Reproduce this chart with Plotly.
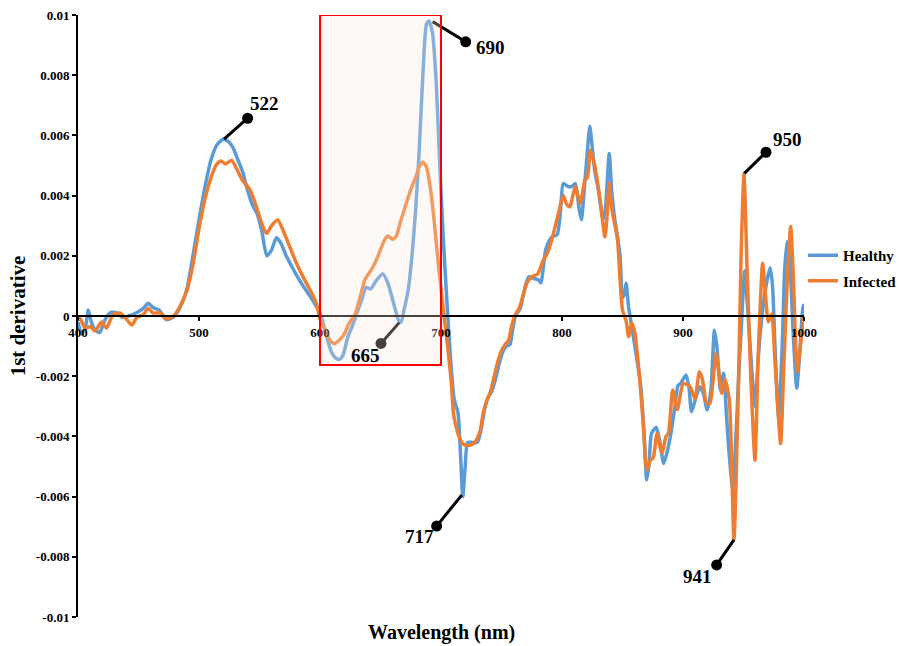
import plotly.graph_objects as go

# ---------------- data (values in units of 1e-3) ----------------
healthy_wl = [400, 403, 406, 408.5, 411, 414, 418, 422, 427, 432, 437, 442, 448, 454, 458, 462, 467, 473, 479, 484,
              490, 495, 500, 505, 510, 515, 520, 524, 528, 532, 536, 540, 544, 548, 552, 556, 560, 564, 568, 572,
              576, 580, 586, 592, 598, 601, 605, 609, 613, 616, 619, 623, 627, 631, 635, 638, 642, 646, 652, 656,
              659, 662, 665, 667, 670, 673, 676, 679, 682, 685, 688, 690, 693, 696, 699, 702, 705, 708, 711, 714,
              716, 718, 720, 722, 726, 730, 733, 736, 739, 742, 745, 748, 751, 754, 757, 759, 761.5, 765.5, 768.5, 772.5,
              776.5, 780.5, 782.5, 786.5, 789.5, 792.5, 796, 799, 801, 805, 808, 811, 814, 816, 819, 821, 823, 825, 827, 830,
              834, 836, 839, 841, 843, 846, 848, 850, 852, 853, 855, 857, 861, 865, 868, 870, 872, 874, 878, 881,
              884, 887, 890, 893, 896, 898, 902.5, 905, 907, 910, 914, 917, 920, 923, 926, 928, 931, 933.5, 936, 938,
              941, 944, 946, 948, 951, 953, 955, 959.5, 962, 964, 968, 972, 974, 976, 979, 982, 984, 986, 988, 991,
              994, 996, 999, 1000]
healthy_val = [-0.2, -0.6, -0.4, 0.2, -0.2, -0.45, -0.55, -0.15, 0.12, 0.1, -0.05, 0.0, 0.1, 0.25, 0.42, 0.28, 0.2, -0.12, -0.03, 0.26,
               0.9, 2.0, 3.2, 4.3, 5.2, 5.7, 5.87, 5.8, 5.6, 5.2, 4.8, 4.2, 3.7, 3.4, 2.8, 2.0, 2.2, 2.6, 2.4, 2.0,
               1.7, 1.4, 1.0, 0.65, 0.25, 0.0, -0.6, -1.15, -1.4, -1.44, -1.3, -0.7, -0.3, 0.15, 0.6, 0.95, 0.9, 1.15, 1.4, 1.1,
               0.7, 0.25, -0.15, -0.2, 0.3, 0.9, 2.0, 3.5, 5.5, 8.0, 9.7, 9.8, 9.4, 7.8, 5.0, 2.5, 0.4, -1.5, -2.8, -3.2,
               -4.5, -6.0, -5.0, -4.2, -4.2, -4.2, -3.8, -3.1, -2.7, -2.5, -2.1, -1.6, -1.2, -1.0, -0.95, -0.5, 0.0, 0.25, 0.8, 1.3,
               1.25, 1.2, 1.1, 2.2, 2.5, 2.65, 2.7, 3.6, 4.4, 4.3, 4.3, 4.4, 3.6, 3.2, 4.5, 5.5, 6.3, 5.6, 4.85, 4.2,
               3.2, 3.6, 5.4, 4.2, 3.4, 2.6, 2.0, 0.6, 0.8, 1.1, 0.3, -0.2, -1.2, -2.3, -4.0, -5.45, -4.9, -3.9, -3.7, -4.2,
               -4.9, -4.5, -3.9, -3.1, -2.3, -2.24, -1.96, -2.4, -3.18, -2.8, -2.35, -2.6, -3.12, -2.5, -0.47, -1.0, -2.46, -1.9, -3.35, -4.5,
               -5.73, -3.8, -2.0, -0.5, 1.5, 0.5, -0.7, -3.0, -1.5, -0.5, 0.86, 1.6, 1.0, -1.0, -3.35, -1.0, 1.5, 2.47, 2.0, -0.5,
               -2.4, -1.5, 0.25, 0.4]

infected_wl = [400, 402, 406, 410, 414, 419.5, 423.5, 429, 434.5, 440, 444.5, 448.5, 454, 458, 462, 468, 473, 479, 484, 490,
               495, 500, 505, 510, 514, 518, 522, 527, 531, 536, 542, 546, 550, 554, 556, 560, 565, 570, 575, 580,
               586, 592, 597, 600, 604, 608, 612, 616, 620, 624, 629, 633, 637, 641, 645, 649, 653, 656, 660, 663,
               667, 671, 675, 679, 682, 685, 688, 691, 694, 697, 700, 703, 706, 708.5, 710.5, 714, 717.5, 721, 724, 728,
               730, 732.5, 735, 738, 741, 744, 747, 750, 753, 756, 758, 761, 765, 768, 771, 775, 780, 784, 788, 792,
               797, 801, 804, 806.5, 809, 811, 815, 819, 821, 823.5, 827, 831, 835.5, 837, 839, 841, 844, 846, 848, 850,
               853, 855, 857.5, 860, 864, 867, 870, 873, 875.5, 878.5, 882.5, 886, 888, 891.5, 895.3, 900.3, 905.8, 909.9, 913.5, 916,
               919.6, 922.3, 927.3, 932, 934.7, 938.3, 942.1, 946, 948, 950.4, 953, 956, 959.5, 962, 964, 965.8, 968, 970.5, 973.3, 976,
               980.7, 983, 986, 989, 991, 994.4, 997, 1000]
infected_val = [0.0, -0.1, -0.4, -0.35, -0.5, -0.2, -0.4, 0.05, 0.1, -0.1, -0.3, -0.05, 0.05, 0.25, 0.1, 0.1, -0.1, 0.0, 0.3, 0.85,
                1.7, 2.9, 3.9, 4.6, 5.0, 5.15, 5.05, 5.17, 4.9, 4.5, 4.2, 3.8, 3.3, 2.85, 2.75, 3.0, 3.2, 2.8, 2.3, 1.8,
                1.3, 0.85, 0.42, -0.1, -0.45, -0.8, -0.92, -0.8, -0.6, -0.25, 0.06, 0.6, 1.2, 1.45, 1.72, 2.1, 2.5, 2.66, 2.55, 2.65,
                3.2, 3.7, 4.2, 4.6, 4.95, 5.12, 4.95, 4.3, 3.3, 2.05, 0.9, -0.17, -1.2, -2.2, -3.3, -3.9, -4.23, -4.3, -4.29, -4.2,
                -4.06, -3.79, -3.2, -2.8, -2.5, -2.0, -1.5, -1.15, -0.95, -0.8, -0.4, 0.0, 0.3, 0.7, 1.1, 1.3, 1.4, 1.8, 2.1, 2.6,
                3.4, 4.0, 3.7, 3.63, 4.0, 4.3, 3.74, 4.52, 4.6, 5.51, 5.0, 4.0, 2.63, 3.2, 4.41, 3.6, 2.97, 2.5, 1.2, 0.2,
                -0.16, -0.69, -0.23, -0.5, -2.0, -3.5, -5.12, -4.8, -4.7, -3.9, -4.56, -4.0, -3.9, -2.46, -3.1, -2.24, -2.35, -2.75, -1.85, -2.1,
                -2.9, -2.9, -1.24, -2.57, -2.1, -2.8, -7.44, -2.0, 2.0, 4.74, 1.5, -2.0, -4.79, -1.5, 0.5, 1.75, 0.8, -0.19, 0.07, -1.5,
                -4.24, -2.0, 1.0, 2.97, 1.5, -1.85, -1.0, -0.03]

series_names = ["Healthy", "Infected"]
series_colors = ["#5B9BD5", "#ED7D31"]

y_ticks = [-0.01, -0.008, -0.006, -0.004, -0.002, 0, 0.002, 0.004, 0.006, 0.008, 0.01]
y_tick_text = ["-0.01", "-0.008", "-0.006", "-0.004", "-0.002", "0", "0.002", "0.004", "0.006", "0.008", "0.01"]
x_ticks = [400, 500, 600, 700, 800, 900, 1000]

# callouts: label, curve point (wl, value), dot (wl, value), text position (wl, value)
callout_labels = ["522", "690", "665", "717", "941", "950"]
callout_pts = [(520.7, 0.00588), (693.1, 0.00978), (665.5, -0.00022), (717.1, -0.00595), (942.1, -0.00744), (950.7, 0.00474)]
callout_dots = [(540.2, 0.00657), (720.4, 0.00911), (650.4, -0.00091), (696.4, -0.00698), (927.8, -0.00827), (968.6, 0.00544)]
callout_text = [(554.5, 0.00705), (740.5, 0.00893), (637.2, -0.00130), (682.6, -0.00734), (911.6, -0.00864), (986.0, 0.00585)]

highlight_x = (600, 700)
highlight_y = (-0.00163, 0.01)

FONT = "Liberation Serif, Times New Roman, serif"

fig = go.Figure()
for name, color, wl, val, grp in [
    (series_names[0], series_colors[0], healthy_wl, healthy_val, "g1"),
    (series_names[1], series_colors[1], infected_wl, infected_val, "g2"),
]:
    fig.add_trace(go.Scatter(
        x=wl, y=[v * 1e-3 for v in val], name=name, mode="lines",
        line=dict(color=color, width=3.5, shape="spline", smoothing=0.6),
        legendgroup=grp,
    ))

# callout lines and dots
for (px, py), (dx, dy) in zip(callout_pts, callout_dots):
    fig.add_shape(type="line", x0=px, y0=py, x1=dx, y1=dy, xref="x", yref="y",
                  line=dict(color="black", width=3), layer="above")
fig.add_trace(go.Scatter(
    x=[d[0] for d in callout_dots], y=[d[1] for d in callout_dots],
    mode="markers", marker=dict(color="black", size=11), showlegend=False, hoverinfo="skip"))
for lab, (tx, ty) in zip(callout_labels, callout_text):
    fig.add_annotation(x=tx, y=ty, text=lab, showarrow=False, xref="x", yref="y",
                       font=dict(family=FONT, size=19, color="black", weight="bold"))

# highlighted region
fig.add_shape(type="rect", x0=highlight_x[0], x1=highlight_x[1], y0=highlight_y[0], y1=highlight_y[1],
              xref="x", yref="y", line=dict(color="#FF0000", width=2),
              fillcolor="rgba(250,232,226,0.28)", layer="above")

# x-axis title
fig.add_annotation(x=0.5, y=-0.026, xref="paper", yref="paper", yanchor="middle", showarrow=False,
                   text="Wavelength (nm)", font=dict(family=FONT, size=20, color="black", weight="bold"))

fig.update_layout(
    width=899, height=646,
    margin=dict(l=78, r=95, t=15, b=29, autoexpand=False),
    plot_bgcolor="white", paper_bgcolor="white",
    font=dict(family=FONT, color="black"),
    showlegend=True,
    legend=dict(x=803 / 899, y=1 - 239 / 646, xref="container", yref="container",
                xanchor="left", yanchor="top", traceorder="grouped",
                tracegroupgap=3, font=dict(family=FONT, size=15, color="black", weight="bold"),
                bgcolor="rgba(0,0,0,0)", itemwidth=30),
    xaxis=dict(range=[400, 1000], anchor="free", position=0.5, showline=True, linecolor="black", linewidth=2,
               ticks="outside", ticklen=4, tickwidth=2, tickcolor="black", tickvals=x_ticks,
               tickfont=dict(family=FONT, size=13, color="black", weight="bold"),
               showgrid=False, zeroline=False, automargin=False),
    yaxis=dict(range=[-0.01, 0.01], domain=[0, 1], showline=True, linecolor="black", linewidth=2,
               ticks="outside", ticklen=4, tickwidth=2, tickcolor="black",
               tickvals=y_ticks, ticktext=y_tick_text, automargin=False,
               tickfont=dict(family=FONT, size=13, color="black", weight="bold"),
               showgrid=False, zeroline=False,
               title=dict(text="1st derivative", standoff=4,
                          font=dict(family=FONT, size=21, color="black", weight="bold"))),
)

fig.write_html("out.html")
